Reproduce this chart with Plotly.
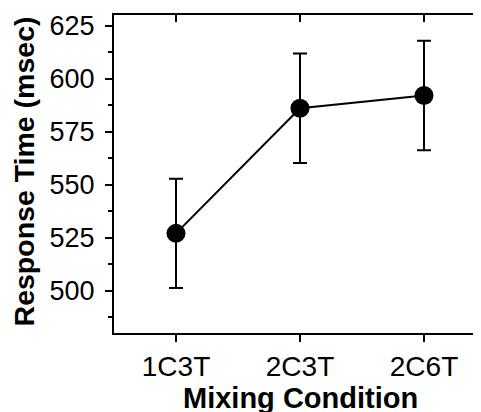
import plotly.graph_objects as go

categories = ["1C3T", "2C3T", "2C6T"]
response_ms = [527, 586, 592]
error_ms = [25.8, 25.8, 25.8]
y_ticks = [500, 525, 550, 575, 600, 625]

xpos = list(range(len(categories)))
FONT = "Liberation Sans, Arial, Helvetica, sans-serif"

fig = go.Figure()
fig.add_trace(go.Scatter(
    x=xpos, y=response_ms,
    mode="lines+markers",
    line=dict(color="black", width=2),
    marker=dict(color="black", size=19),
    error_y=dict(type="data", array=error_ms, color="black", thickness=2, width=7),
    showlegend=False, hoverinfo="skip",
))
# invisible trace to anchor the mirror axes
fig.add_trace(go.Scatter(x=[xpos[0]], y=[response_ms[0]], xaxis="x2", yaxis="y2",
                         mode="markers", marker=dict(opacity=0), showlegend=False,
                         hoverinfo="skip"))

xr = [-0.5, 2.5]
yr = [480, 630]

fig.update_layout(
    width=481, height=412,
    margin=dict(l=106, r=3, t=5, b=87),
    paper_bgcolor="white", plot_bgcolor="white",
    font=dict(family=FONT, color="black"),
    xaxis=dict(
        range=xr, tickvals=xpos, ticktext=categories,
        showgrid=False, zeroline=False,
        showline=True, linecolor="black", linewidth=2,
        ticks="outside", ticklen=7, tickwidth=2, tickcolor="black",
        tickfont=dict(size=28, family=FONT),
    ),
    yaxis=dict(
        range=yr, tickvals=y_ticks,
        showgrid=False, zeroline=False,
        showline=True, linecolor="black", linewidth=2,
        ticks="outside", ticklen=7, tickwidth=2, tickcolor="black",
        ticklabelstandoff=5,
        tickfont=dict(size=27, family=FONT),
        minor=dict(ticks="outside", ticklen=4, tickwidth=2, tickcolor="black",
                   tick0=487.5, dtick=25, showgrid=False),
    ),
    xaxis2=dict(
        overlaying="x", side="top", range=xr, tickvals=xpos,
        showticklabels=False, showgrid=False, zeroline=False,
        showline=True, linecolor="black", linewidth=2,
        ticks="inside", ticklen=7, tickwidth=2, tickcolor="black",
    ),
    yaxis2=dict(
        overlaying="y", side="right", range=yr, tickvals=y_ticks,
        showticklabels=False, showgrid=False, zeroline=False,
        showline=True, linecolor="black", linewidth=2,
        ticks="inside", ticklen=7, tickwidth=2, tickcolor="black",
    ),
    annotations=[
        dict(text="<b>Response Time (msec)</b>", xref="paper", yref="paper",
             x=-0.242, y=0.508, xanchor="center", yanchor="middle",
             textangle=-90, showarrow=False, font=dict(size=28.5, family=FONT)),
        dict(text="<b>Mixing Condition</b>", xref="paper", yref="paper",
             x=0.5, y=-0.203, xanchor="center", yanchor="middle",
             showarrow=False, font=dict(size=29, family=FONT)),
    ],
)

fig.write_html("out.html")
